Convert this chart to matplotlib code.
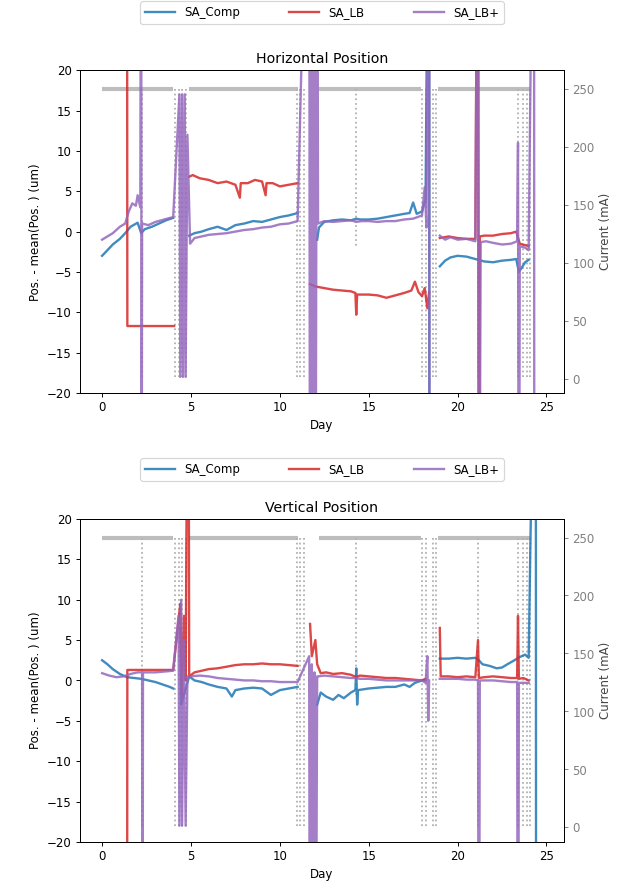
import numpy as np
import matplotlib
matplotlib.use("Agg")
import matplotlib.pyplot as plt

nan = np.nan

# Beam current (mA) - stored beam plateaus
cur_day = [0.0, 4.0, nan, 4.9, 11.0, nan, 12.2, 17.95, nan, 18.9, 24.05]
cur_mA = [250, 250, nan, 250, 250, nan, 250, 250, nan, 250, 250]

# Beam current during refills / trips (drawn dotted)
inj_day = [2.25, 2.25, nan, 4.1, 4.1, nan, 4.3, 4.3, nan, 4.5, 4.5, nan, 4.7, 4.7, nan,
           10.95, 10.95, nan, 11.15, 11.15, nan, 11.35, 11.35, nan, 14.3, 14.3, nan,
           18.0, 18.0, nan, 18.2, 18.2, nan, 18.6, 18.6, nan, 18.8, 18.8, nan,
           21.15, 21.15, nan, 23.4, 23.4, nan, 23.7, 23.7, nan, 23.9, 23.9, nan, 24.1, 24.1]
inj_mA = [250, 0, nan, 250, 0, nan, 250, 0, nan, 250, 0, nan, 250, 0, nan,
          250, 0, nan, 250, 0, nan, 250, 0, nan, 250, 113, nan,
          250, 0, nan, 250, 0, nan, 250, 0, nan, 250, 0, nan,
          250, 0, nan, 250, 0, nan, 250, 0, nan, 250, 0, nan, 250, 0]

# Horizontal position - SA_Comp
h_comp_day = [0.0, 0.3, 0.6, 1.0, 1.3, 1.6, 2.0, 2.2, 2.4, 2.8, 3.2, 3.6, 4.0, nan,
              4.9, 5.2, 5.6, 6.0, 6.5, 7.0, 7.5, 8.0, 8.5, 9.0, 9.5, 10.0, 10.5, 11.0, nan,
              12.1, 12.2, 12.5, 13.0, 13.5, 14.0, 14.3, 14.5, 15.0, 15.5, 16.0, 16.5, 17.0,
              17.3, 17.5, 17.7, 18.0, 18.2, 18.4, 18.42, nan,
              19.0, 19.3, 19.6, 20.0, 20.5, 21.0, 21.5, 22.0, 22.5, 23.0, 23.3, 23.45,
              23.6, 23.8, 24.0]
h_comp = [-3.0, -2.3, -1.6, -0.9, -0.2, 0.6, 1.1, -0.2, 0.3, 0.6, 1.0, 1.4, 1.7, nan,
          -0.5, -0.2, 0.0, 0.3, 0.6, 0.2, 0.8, 1.0, 1.3, 1.2, 1.5, 1.8, 2.0, 2.3, nan,
          -1.0, 0.5, 1.2, 1.4, 1.5, 1.4, 1.6, 1.5, 1.5, 1.6, 1.8, 2.0, 2.2,
          2.3, 3.6, 2.2, 2.5, 4.0, 60, -60, nan,
          -4.3, -3.6, -3.2, -3.0, -3.1, -3.4, -3.7, -3.8, -3.6, -3.5, -3.4, -5.0,
          -4.5, -3.8, -3.5]

# Horizontal position - SA_LB
h_lb_day = [1.4, 1.42, 4.05, nan,
            4.9, 5.1, 5.5, 6.0, 6.5, 7.0, 7.5, 7.75, 7.8, 8.2, 8.6, 9.0, 9.2, 9.25, 9.6,
            10.0, 10.5, 11.0, nan,
            11.7, 12.0, 12.5, 13.0, 13.5, 14.0, 14.25, 14.3, 14.35, 15.0, 15.5, 16.0, 16.5,
            17.0, 17.4, 17.6, 17.8, 18.0, 18.15, 18.3, 18.4, nan,
            19.0, 19.5, 20.0, 20.5, 21.0, 21.15, 21.2, 21.25, 21.5, 22.0, 22.5, 23.0, 23.3,
            23.5, 24.0]
h_lb = [60, -11.7, -11.7, nan,
        6.8, 7.0, 6.6, 6.4, 6.0, 6.2, 5.8, 4.2, 6.0, 6.0, 6.4, 6.2, 4.5, 6.0, 6.0,
        5.6, 5.8, 6.0, nan,
        -6.5, -6.8, -7.0, -7.2, -7.3, -7.4, -7.6, -10.3, -7.8, -7.8, -7.9, -8.2, -7.9,
        -7.6, -7.3, -6.2, -7.5, -8.0, -7.0, -9.5, -7.5, nan,
        -0.8, -0.6, -0.8, -0.9, -0.9, 60, -60, -0.6, -0.5, -0.5, -0.3, -0.2, 0.0,
        -1.5, -1.8]

# Horizontal position - SA_LB+
h_lbp_day = [0.0, 0.3, 0.6, 1.0, 1.3, 1.5, 1.7, 1.9, 2.0, 2.15, 2.2, 2.22, 2.25, 2.6, 3.0,
             3.5, 4.0, 4.35, 4.4, 4.5, 4.55, 4.65, 4.7, 4.8,
             4.95, 5.2, 5.6, 6.0, 6.5, 7.0, 7.5, 8.0, 8.5, 9.0, 9.5, 10.0, 10.5, 11.0,
             11.65, 11.7, 11.8, 11.85, 11.95, 12.0, 12.1,
             12.15, 12.5, 13.0, 13.5, 14.0, 14.3, 14.6, 15.0, 15.5, 16.0, 16.5, 17.0, 17.5,
             18.0, 18.15, 18.25, 18.4, 18.42, nan,
             19.0, 19.3, 19.6, 20.0, 20.5, 21.0, 21.15, 21.2, 21.3, 21.6, 22.0, 22.5, 23.0,
             23.35, 23.4, 23.45, 23.5, 23.8, 24.0, 24.3, 24.32]
h_lbp = [-1.0, -0.6, -0.2, 0.6, 1.0, 2.5, 3.5, 3.2, 4.5, 3.0, 60, -60, 1.0, 0.8, 1.2,
         1.5, 1.8, 17, -18, 17, -18, 17, -18, 12,
         -1.5, -0.8, -0.6, -0.4, -0.3, -0.2, 0.0, 0.2, 0.3, 0.5, 0.6, 0.9, 1.0, 1.3,
         60, -60, 60, -60, 60, -60, 60,
         1.0, 1.3, 1.2, 1.3, 1.4, 1.2, 1.3, 1.3, 1.2, 1.3, 1.3, 1.5, 1.6,
         2.0, 5.5, 0.5, 60, -60, nan,
         -0.5, -1.0, -0.7, -1.0, -0.9, -1.2, 60, -60, -1.3, -1.2, -1.4, -1.6, -1.5,
         -1.2, 11, -60, -1.8, -2.0, -2.3, 60, -60]

# Vertical position - SA_Comp
v_comp_day = [0.0, 0.3, 0.6, 1.0, 1.4, 1.8, 2.2, 2.6, 3.0, 3.4, 3.8, 4.0, nan,
              4.4, 4.45, 4.9, 5.2, 5.6, 6.0, 6.5, 7.0, 7.3, 7.5, 8.0, 8.5, 9.0, 9.5, 10.0,
              10.5, 11.0, nan,
              12.1, 12.3, 12.6, 13.0, 13.3, 13.6, 14.0, 14.25, 14.3, 14.35, 14.4, 15.0, 15.5,
              16.0, 16.5, 17.0, 17.3, 17.6, 18.0, 18.2, nan,
              19.0, 19.5, 20.0, 20.5, 21.0, 21.2, 21.4, 21.8, 22.2, 22.5, 22.8, 23.2, 23.5,
              23.8, 24.0, 24.4, 24.42]
v_comp = [2.5, 2.0, 1.4, 0.8, 0.4, 0.3, 0.2, 0.0, -0.2, -0.5, -0.8, -1.0, nan,
          6.5, -3.0, 0.5, 0.0, -0.2, -0.5, -0.8, -1.0, -2.0, -1.2, -1.0, -0.9, -1.0, -1.8, -1.2,
          -1.0, -0.8, nan,
          -3.0, -1.5, -2.0, -2.4, -1.8, -2.2, -1.5, -1.2, 1.5, -3.0, -1.2, -1.0, -0.9,
          -0.8, -0.8, -0.5, -0.8, -0.3, 0.0, 0.0, nan,
          2.7, 2.7, 2.8, 2.7, 2.8, 2.5, 2.0, 1.8, 1.5, 1.6, 2.0, 2.5, 2.9,
          3.2, 2.8, 60, -60]

# Vertical position - SA_LB
v_lb_day = [1.4, 1.42, 2.0, 3.0, 4.0, 4.4, 4.5, 4.6, 4.7, 4.85,
            4.9, 5.2, 5.6, 6.0, 6.5, 7.0, 7.5, 8.0, 8.5, 9.0, 9.5, 10.0, 10.5, 11.0, nan,
            11.7, 11.8, 12.0, 12.1, 12.3, 12.6, 13.0, 13.5, 14.0, 14.3, 14.5, 15.0, 15.5,
            16.0, 16.5, 17.0, 17.5, 18.0, 18.2, nan,
            19.0, 19.05, 19.5, 20.0, 20.5, 21.0, 21.15, 21.2, 21.5, 22.0, 22.5, 23.0,
            23.35, 23.4, 23.45, 23.7, 24.0]
v_lb = [-60, 1.3, 1.3, 1.3, 1.3, 9.5, -2.0, 8.0, 0.0, 60,
        0.5, 1.0, 1.2, 1.4, 1.5, 1.7, 1.9, 2.0, 2.0, 2.1, 2.0, 2.0, 1.9, 1.8, nan,
        7.0, 3.0, 5.0, 2.0, 0.9, 1.0, 0.8, 0.9, 0.7, 0.4, 0.6, 0.5, 0.4,
        0.3, 0.3, 0.2, 0.1, 0.0, 0.2, nan,
        6.5, 0.5, 0.5, 0.4, 0.5, 0.4, 5.0, 0.3, 0.4, 0.5, 0.4, 0.3,
        0.3, 8.0, 0.2, 0.3, 0.0]

# Vertical position - SA_LB+
v_lbp_day = [0.0, 0.4, 0.8, 1.2, 1.6, 2.0, 2.25, 2.27, 2.3, 2.6, 3.0, 3.5, 4.0,
             4.3, 4.35, 4.45, 4.5, 4.6, 4.7, 4.8,
             4.9, 5.5, 6.0, 6.5, 7.0, 7.5, 8.0, 8.5, 9.0, 9.5, 10.0, 10.5, 11.0,
             11.65, 11.7, 11.8, 11.85, 11.95, 12.0, 12.1,
             12.15, 12.5, 13.0, 13.5, 14.0, 14.3, 14.5, 15.0, 15.5, 16.0, 16.5, 17.0, 17.5,
             18.0, 18.2, 18.3, 18.35, 18.4, nan,
             19.0, 19.5, 20.0, 20.5, 21.0, 21.15, 21.2, 21.25, 21.5, 22.0, 22.5, 23.0,
             23.35, 23.4, 23.45, 23.7, 24.0]
v_lbp = [0.9, 0.6, 0.4, 0.5, 0.8, 1.0, 1.0, -60, 1.0, 1.0, 1.0, 1.1, 1.2,
         8.0, -18, 10, -18, 5.0, -18, 0.5,
         0.5, 0.6, 0.5, 0.3, 0.2, 0.1, 0.0, 0.0, -0.1, -0.1, -0.2, -0.2, -0.2,
         3.0, -60, 2.0, -60, 1.0, -60, 0.5,
         0.5, 0.6, 0.5, 0.4, 0.3, 0.3, 0.2, 0.2, 0.1, 0.0, 0.0, 0.0, 0.0,
         0.0, -0.3, 3.0, -5.0, 0.0, nan,
         0.2, 0.2, 0.2, 0.1, 0.1, 0.0, -60, 0.0, 0.0, 0.0, -0.1, -0.2,
         -0.2, -60, -0.3, -0.3, -0.3]

series_labels = ["SA_Comp", "SA_LB", "SA_LB+"]
series_colors = ["tab:blue", "tab:red", "tab:purple"]
day_ticks = [0, 5, 10, 15, 20, 25]
current_ticks = [0, 50, 100, 150, 200, 250]


def plot_panel(ax, title, series, legend_y):
    """
    Plots position offsets of the three lattices on ax and the beam
    current on a twin y axis.

    Args:
    ax: matplotlib Axes for the position data.
    title: str, title of the panel.
    series: list of (days, values) tuples, one per lattice.
    legend_y: float, height of the legend above the axes (axes coords).
    """
    # Current on the right hand axis, drawn behind the positions
    ax2 = ax.twinx()
    ax2.plot(cur_day, cur_mA, color="#bdbdbd", lw=3.5, solid_capstyle="butt")
    ax2.plot(inj_day, inj_mA, color="#b0b0b0", lw=1.5, ls=":")
    ax2.set_ylim(-12.5, 266)
    ax2.set_yticks(current_ticks)
    ax2.tick_params(axis="y", colors="gray")
    ax2.set_ylabel("Current (mA)", color="#444444")
    ax.set_zorder(ax2.get_zorder() + 1)
    ax.patch.set_visible(False)

    # Position offsets
    for (days, values), label, color in zip(series, series_labels, series_colors):
        ax.plot(days, values, color=color, lw=2, alpha=0.85, label=label)

    ax.set_xlim(-1.25, 26.0)
    ax.set_ylim(-20, 20)
    ax.set_xticks(day_ticks)
    ax.set_xlabel("Day")
    ax.set_ylabel("Pos. - mean(Pos. ) (um)")
    ax.set_title(title)
    ax.legend(loc="lower center", bbox_to_anchor=(0.5, legend_y), ncol=3,
              handlelength=2.5, columnspacing=4.2)


fig, (ax_h, ax_v) = plt.subplots(2, 1, figsize=(7.4, 10.46), dpi=85)
fig.subplots_adjust(left=0.127, right=0.897, top=0.921, bottom=0.053, hspace=0.39)

plot_panel(ax_h, "Horizontal Position",
           [(h_comp_day, h_comp), (h_lb_day, h_lb), (h_lbp_day, h_lbp)], 1.125)
plot_panel(ax_v, "Vertical Position",
           [(v_comp_day, v_comp), (v_lb_day, v_lb), (v_lbp_day, v_lbp)], 1.1)

fig.savefig("out.png", dpi=85)
